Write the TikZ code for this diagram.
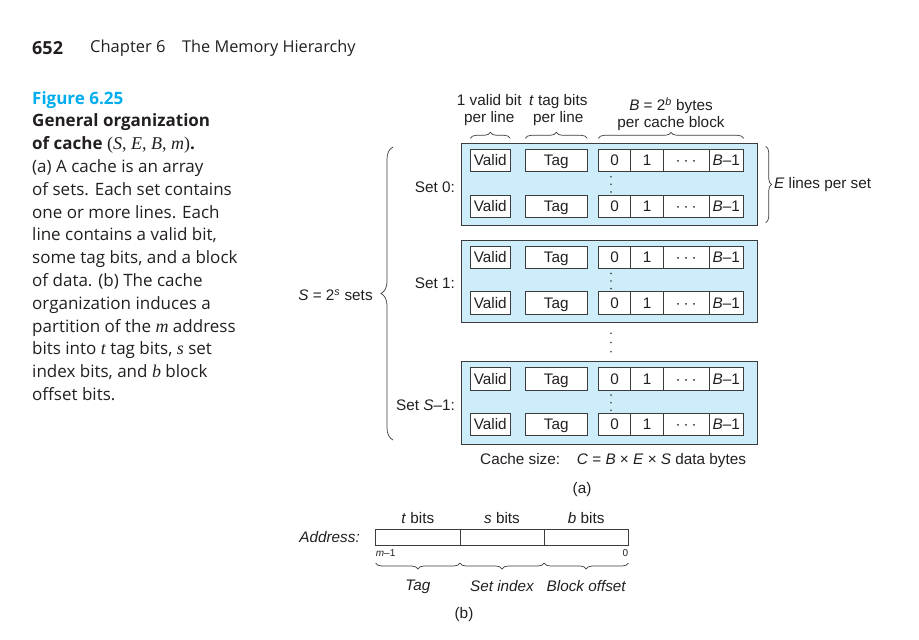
\documentclass[tikz,border=0pt]{standalone}
\usepackage{xcolor}
\usepackage{fontspec}
\setmainfont{Liberation Sans}
\newfontfamily\capfont{Open Sans}
\newfontfamily\capmath{Liberation Serif}
\usepackage{tikz}
\usetikzlibrary{positioning, calc, decorations.pathreplacing}
\definecolor{figcyan}{RGB}{0,173,238}
\definecolor{setfill}{RGB}{204,237,249}
\definecolor{celldraw}{RGB}{60,60,60}
\definecolor{captext}{RGB}{35,31,32}
\tikzset{
  setbox/.style={rectangle, draw=celldraw, fill=setfill, line width=0.9pt,
    minimum width=296.7pt, minimum height=82.4pt, inner sep=0pt, outer sep=0pt},
  cell/.style={rectangle, draw=celldraw, fill=white, line width=0.8pt,
    minimum height=22.4pt, inner sep=0pt, outer sep=0pt,
    text height=10.7pt, text depth=0pt, text=captext,
    font=\fontsize{15.3}{17}\selectfont},
  addrcell/.style={rectangle, draw=celldraw, fill=white, line width=0.8pt,
    minimum width=84.2pt, minimum height=16pt, inner sep=0pt, outer sep=0pt},
  lbl/.style={inner sep=0pt, align=center, text=captext, font=\fontsize{15.3}{17}\selectfont},
  smalllbl/.style={inner sep=0pt, text=captext, font=\fontsize{10}{12}\selectfont},
  brc/.style={decorate, decoration={brace, amplitude=6pt}, line width=0.7pt, color=celldraw},
  bigbrc/.style={decorate, decoration={brace, amplitude=12pt}, line width=0.7pt, color=celldraw},
  vdot/.style={fill=celldraw}
}

\begin{document}
\begin{tikzpicture}[x=1pt, y=-1pt]
  \useasboundingbox (0,0) rectangle (919,640);

  % Page header
  \node[anchor=west, inner sep=0pt, font=\capfont\bfseries\fontsize{18}{20}\selectfont, text=captext] (pgno) at (32,48) {652};
  \node[anchor=west, inner sep=0pt, font=\capfont\fontsize{16.5}{20}\selectfont, text=captext] (chap) at (90,48) {Chapter 6};
  \node[anchor=west, inner sep=0pt, font=\capfont\fontsize{16.3}{20}\selectfont, text=captext] (ctitle) at (182,48) {The Memory Hierarchy};

  % Caption
  \node[anchor=north west, inner sep=0pt, align=left, text=captext,
        font=\capfont\fontsize{17}{22.8}\selectfont] (cap) at (32,91)
    {{\bfseries\color{figcyan}Figure 6.25}\\
     \bfseries General organization\\
     \bfseries of cache {\capmath\mdseries\fontsize{18}{22.8}\selectfont(\textit{S}, \textit{E}, \textit{B}, \textit{m})}.\\
     (a) A cache is an array\\
     of sets. Each set contains\\
     one or more lines. Each\\
     line contains a valid bit,\\
     some tag bits, and a block\\
     of data. (b) The cache\\
     organization induces a\\
     partition of the {\capmath\itshape\fontsize{18}{22.8}\selectfont m} address\\
     bits into {\capmath\itshape\fontsize{18}{22.8}\selectfont t} tag bits, {\capmath\itshape\fontsize{18}{22.8}\selectfont s} set\\
     index bits, and {\capmath\itshape\fontsize{18}{22.8}\selectfont b} block\\
     offset bits.};

  % Sets
  \foreach \s/\top/\name in {a/143.3/{Set 0:}, b/240/{Set 1:}, c/361.7/{Set \textit{S}–1:}} {
    \node[setbox] (set\s) at (609.35,{\top+41.2}) {};
    \node[lbl, anchor=east] (lbl\s) at (455,{\top+43.5}) {\name};
    \foreach \r/\dy in {1/17.2, 2/62.9} {
      \node[cell, minimum width=40pt, anchor=west] (v\s\r) at (470.3,{\top+\dy}) {Valid};
      \node[cell, minimum width=62pt, anchor=west] (t\s\r) at (525.3,{\top+\dy}) {Tag};
      \node[cell, minimum width=32.4pt, anchor=west] (dz\s\r) at (598.3,{\top+\dy}) {0};
      \node[cell, minimum width=32.6pt, right=0pt of dz\s\r] (do\s\r) {1};
      \node[cell, minimum width=45.7pt, right=0pt of do\s\r] (dd\s\r) {·\hspace{3pt}·\hspace{3pt}·};
      \node[cell, minimum width=34.7pt, right=0pt of dd\s\r] (db\s\r) {\textit{B}–1};
    }
    % dots between the lines of a set
    \foreach \k in {0,1,2}
      \fill[vdot] (611,{\top+33.4+7.6*\k}) circle (0.9);
  }

  % dots between Set 1 and Set S-1
  \foreach \k in {0,1,2}
    \fill[vdot] (611,{333.3+9.2*\k}) circle (0.9);

  % Field braces above Set 0
  \draw[brc] ([yshift=11pt]va1.north west) -- ([yshift=11pt]va1.north east)
    node[midway, lbl, above=12pt, xshift=-1pt] (vlbl) {1 valid bit\\per line};
  \draw[brc] ([yshift=11pt]ta1.north west) -- ([yshift=11pt]ta1.north east)
    node[midway, lbl, above=12pt, xshift=2pt] (tlbl) {\textit{t} tag bits\\per line};
  \draw[brc] ([yshift=11pt]dza1.north west) -- ([yshift=11pt]dba1.north east)
    node[midway, lbl, above=7pt] (blbl) {\textit{B} = 2\textsuperscript{\textit{b}} bytes\\per cache block};

  % E lines per set
  \draw[brc] ([xshift=8pt,yshift=-3pt]seta.north east) -- ([xshift=8pt,yshift=3pt]seta.south east)
    node[midway, lbl, anchor=west, xshift=8pt] (elbl) {\textit{E} lines per set};

  % S sets
  \coordinate (sbot) at (393,440);
  \coordinate (stop) at (393,147);
  \draw[bigbrc] (sbot) -- (stop)
    node[midway, lbl, anchor=east, xshift=-20pt, yshift=-2pt] (slbl) {\textit{S} = 2\textsuperscript{\textit{s}} sets};

  % Cache size
  \node[lbl, anchor=west] (csize) at (480,461) {Cache size:\hspace{1.1em}\textit{C} = \textit{B} × \textit{E} × \textit{S} data bytes};
  \node[lbl] (capa) at (582,490) {(a)};

  % Address
  \node[addrcell] (tf) at (417.8,537) {};
  \node[addrcell, right=0pt of tf] (sf) {};
  \node[addrcell, right=0pt of sf] (bf) {};
  \node[lbl, font=\itshape\fontsize{15.3}{17}\selectfont, left=15.7pt of tf] (addr) {Address:};
  \node[lbl, above=5pt of tf] (tbits) {\textit{t} bits};
  \node[lbl, above=5pt of sf] (sbits) {\textit{s} bits};
  \node[lbl, above=5pt of bf] (bbits) {\textit{b} bits};
  \node[smalllbl, anchor=north west] (mhi) at ([yshift=-4pt]tf.south west) {\textit{m}–1};
  \node[smalllbl, anchor=north east] (mlo) at ([yshift=-4pt]bf.south east) {0};

  \draw[brc] ([yshift=-18pt]tf.south east) -- ([yshift=-18pt]tf.south west)
    node[midway, lbl, font=\itshape\fontsize{15.3}{17}\selectfont, below=17pt] (tagf) {Tag};
  \draw[brc] ([yshift=-18pt]sf.south east) -- ([yshift=-18pt]sf.south west)
    node[midway, lbl, font=\itshape\fontsize{15.3}{17}\selectfont, below=17pt] (setf) {Set index};
  \draw[brc] ([yshift=-18pt]bf.south east) -- ([yshift=-18pt]bf.south west)
    node[midway, lbl, font=\itshape\fontsize{15.3}{17}\selectfont, below=17pt] (offf) {Block offset};
  \node[lbl] (capb) at (464,615) {(b)};
\end{tikzpicture}
\end{document}
